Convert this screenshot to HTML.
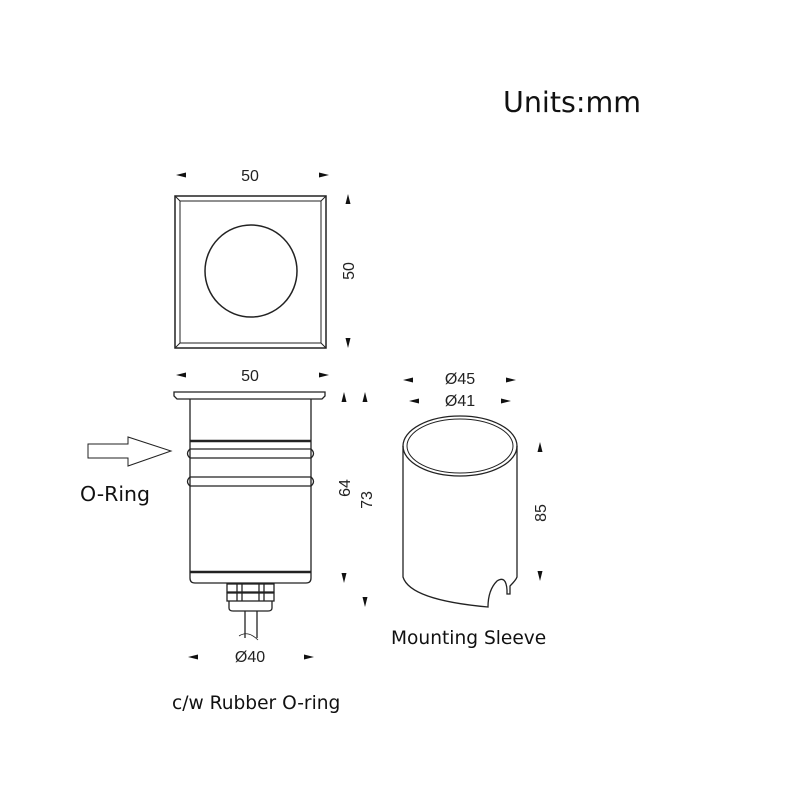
<!DOCTYPE html>
<html><head><meta charset="utf-8"><style>
html,body{margin:0;padding:0;background:#fff;}
svg{display:block;}
.t{font-family:"DejaVu Sans","Liberation Sans",sans-serif;}
.d{font-family:"Liberation Sans",sans-serif;font-size:16px;fill:#222;font-weight:300;}
</style></head><body>
<svg width="800" height="799" viewBox="0 0 800 799" xmlns="http://www.w3.org/2000/svg">
<g fill="#111">
<text x="503" y="112" class="t" font-size="28.5">Units:mm</text>
<text x="80" y="501" class="t" font-size="20.5">O-Ring</text>
<text x="172" y="709" class="t" font-size="18.6">c/w Rubber O-ring</text>
<text x="391" y="644" class="t" font-size="18.6">Mounting Sleeve</text>
</g>
<g fill="none" stroke="#222" stroke-width="1.5">
<rect x="175" y="196" width="151" height="152"/>
<rect x="180" y="201" width="141" height="142" stroke-width="1"/>
<line x1="175" y1="196" x2="180" y2="201" stroke-width="1"/>
<line x1="326" y1="196" x2="321" y2="201" stroke-width="1"/>
<line x1="175" y1="348" x2="180" y2="343" stroke-width="1"/>
<line x1="326" y1="348" x2="321" y2="343" stroke-width="1"/>
<circle cx="251" cy="271" r="46"/>
</g>
<g fill="#111">
<polygon points="176,175 186,172.5 186,177.5"/>
<polygon points="329,175 319,172.5 319,177.5"/>
<polygon points="348,194 345.5,204 350.5,204"/>
<polygon points="348,348 345.5,338 350.5,338"/>
<polygon points="176,375 186,372.5 186,377.5"/>
<polygon points="329,375 319,372.5 319,377.5"/>
<polygon points="344,392 341.5,402 346.5,402"/>
<polygon points="365,392 362.5,402 367.5,402"/>
<polygon points="344,583 341.5,573 346.5,573"/>
<polygon points="365,607 362.5,597 367.5,597"/>
<polygon points="188,657 198,654.5 198,659.5"/>
<polygon points="314,657 304,654.5 304,659.5"/>
<polygon points="403,380 413,377.5 413,382.5"/>
<polygon points="516,380 506,377.5 506,382.5"/>
<polygon points="409,401 419,398.5 419,403.5"/>
<polygon points="511,401 501,398.5 501,403.5"/>
<polygon points="540,442 537.5,452 542.5,452"/>
<polygon points="540,581 537.5,571 542.5,571"/>
</g>
<text x="250" y="181" class="d" text-anchor="middle">50</text>
<text x="0" y="0" class="d" text-anchor="middle" transform="translate(354,271) rotate(-90)">50</text>
<text x="250" y="381" class="d" text-anchor="middle">50</text>
<text x="0" y="0" class="d" text-anchor="middle" transform="translate(350,488) rotate(-90)">64</text>
<text x="0" y="0" class="d" text-anchor="middle" transform="translate(372,500) rotate(-90)">73</text>
<text x="250" y="662" class="d" text-anchor="middle">Ø40</text>
<text x="460" y="384" class="d" text-anchor="middle">Ø45</text>
<text x="460" y="406" class="d" text-anchor="middle">Ø41</text>
<text x="0" y="0" class="d" text-anchor="middle" transform="translate(546,513) rotate(-90)">85</text>
<g fill="none" stroke="#222" stroke-width="1.3">
<path d="M174,392 H325 V396 L322,399 H177 L174,396 Z"/>
<path d="M190,399 V578 Q190,583 195,583 H306 Q311,583 311,578 V399"/>
<line x1="190" y1="441" x2="311" y2="441" stroke-width="2.5"/>
<path d="M190,449 H311 Q316,453.5 311,458 H190 Q185,453.5 190,449 Z"/>
<path d="M190,477 H311 Q316,481.5 311,486 H190 Q185,481.5 190,477 Z"/>
<line x1="190" y1="572" x2="311" y2="572" stroke-width="2.5"/>
<rect x="227" y="584" width="47" height="8"/>
<rect x="227" y="593" width="47" height="8"/>
<line x1="237" y1="584" x2="237" y2="601"/><line x1="242" y1="584" x2="242" y2="601"/>
<line x1="259" y1="584" x2="259" y2="601"/><line x1="264" y1="584" x2="264" y2="601"/>
<path d="M229,601 V608 Q229,611 233,611 H268 Q272,611 272,608 V601"/>
<line x1="245" y1="611" x2="245" y2="638"/>
<line x1="257" y1="611" x2="257" y2="638"/>
<path d="M239,636 Q248,630 258,640" stroke-width="0.8"/>
<path d="M88,444 H128 V437 L171,451 L128,466 V458 H88 Z" stroke-width="1"/>
</g>
<g fill="none" stroke="#222" stroke-width="1.3">
<ellipse cx="460" cy="446" rx="57" ry="30"/>
<ellipse cx="460" cy="446" rx="53" ry="27" stroke-width="1"/>
<path d="M403,446 V577 Q410,600 488,607 Q488,590 497,581 Q506,575 507,590 V594 L510,594 V586 Q516,580 517,577 V446"/>
</g>
</svg>
</body></html>
